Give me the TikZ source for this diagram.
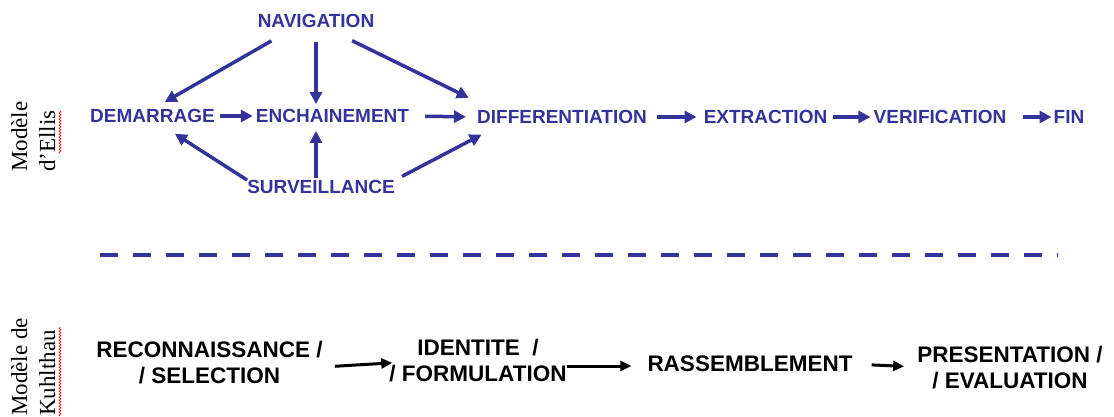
\documentclass[tikz,border=0pt]{standalone}
\usepackage{fontspec}
\setmainfont{Liberation Serif}
\setsansfont{Liberation Sans}
\usetikzlibrary{arrows.meta,decorations.pathmorphing}
\definecolor{ellisblue}{HTML}{333399}

\begin{document}
\begin{tikzpicture}[x=1pt,y=-1pt,
  etape/.style={font=\sffamily\bfseries\fontsize{19}{22}\selectfont,text=ellisblue,inner sep=0pt},
  phase/.style={font=\sffamily\bfseries\fontsize{22.5}{26}\selectfont,align=center,inner sep=0pt},
  modele/.style={font=\rmfamily\fontsize{23}{28}\selectfont,rotate=90,anchor=north west,align=left,inner sep=0pt},
  fl/.style={draw,color=ellisblue,line width=3.5pt,-{Triangle[length=12pt,width=12pt]}},
  flk/.style={draw,line width=3pt,-{Triangle[length=11pt,width=10pt]}},
  souligne/.style={draw=red,line width=0.6pt,decorate,decoration={zigzag,amplitude=1pt,segment length=3pt}}]
  \useasboundingbox (0,0) rectangle (1114,417);

  \begin{scope}
    \node[modele] (ellis) at (11,172) {Modèle\\d'Ellis};
    \path[souligne] (60,153) -- (60,111);

    \node[etape] (nav) at (316,21) {NAVIGATION};

    \node[etape] (dem) at (152.5,116) {DEMARRAGE};
    \node[etape] (enc) at (332.5,116) {ENCHAINEMENT};
    \node[etape] (dif) at (562,117) {DIFFERENTIATION};
    \node[etape] (ext) at (765.5,117) {EXTRACTION};
    \node[etape] (ver) at (940,117) {VERIFICATION};
    \node[etape] (fin) at (1069,117) {FIN};

    \node[etape] (sur) at (321,187) {SURVEILLANCE};

    \path[fl,shorten <=26pt,shorten >=14pt] ([xshift=-22pt]nav.south) -- (dem.north);
    \path[fl,shorten <=14pt,shorten >=5pt] (nav.south) -- (nav.south |- enc.north);
    \path[fl,shorten <=29pt,shorten >=28pt] ([xshift=10pt]nav.south) -- ([xshift=17pt]dif.north west);

    \path[fl,shorten <=5pt,shorten >=3pt] (dem.east) -- (enc.west);
    \path[fl,shorten <=16pt,shorten >=11pt] (enc.east) -- (dif.west);
    \path[fl,shorten <=10pt,shorten >=7pt] (dif.east) -- (ext.west);
    \path[fl,shorten <=6pt,shorten >=3pt] (ext.east) -- (ver.west);
    \path[fl,shorten <=16pt,shorten >=2pt] (ver.east) -- (fin.west);

    \path[fl,shorten <=0pt,shorten >=20pt] (sur.north west) -- ([xshift=5.5pt]dem.south);
    \path[fl,shorten <=2pt,shorten >=8pt] ([xshift=-5pt]sur.north) -- ([xshift=-5pt]sur.north |- enc.south);
    \path[fl,shorten <=8pt,shorten >=23pt] (sur.north east) -- ([xshift=25pt]dif.south west);
  \end{scope}

  \path[draw,ellisblue,line width=4pt,dash pattern=on 18pt off 15pt] (100,255) -- (1058,255);

  \begin{scope}
    \node[modele] (kuhl) at (11,416) {Modèle de\\Kuhlthau};
    \path[souligne] (60,416) -- (60,327);

    \node[phase] (rec) at (209.5,362.5) {RECONNAISSANCE /\\/ SELECTION};
    \node[phase] (ide) at (478,361) {IDENTITE~~/\\/ FORMULATION};
    \node[phase] (ras) at (750,364) {RASSEMBLEMENT};
    \node[phase] (pre) at (1010,368) {PRESENTATION /\\/ EVALUATION};

    \path[flk,shorten <=12pt,shorten >=-3pt] ([yshift=-4.5pt]rec.east) -- ([yshift=-2pt]ide.west);
    \path[flk,shorten <=0pt,shorten >=16pt] ([yshift=-5pt]ide.east) -- ([yshift=-2pt]ras.west);
    \path[flk,shorten <=19pt,shorten >=13pt] (ras.east) -- ([yshift=1pt]pre.west);
  \end{scope}
\end{tikzpicture}
\end{document}
